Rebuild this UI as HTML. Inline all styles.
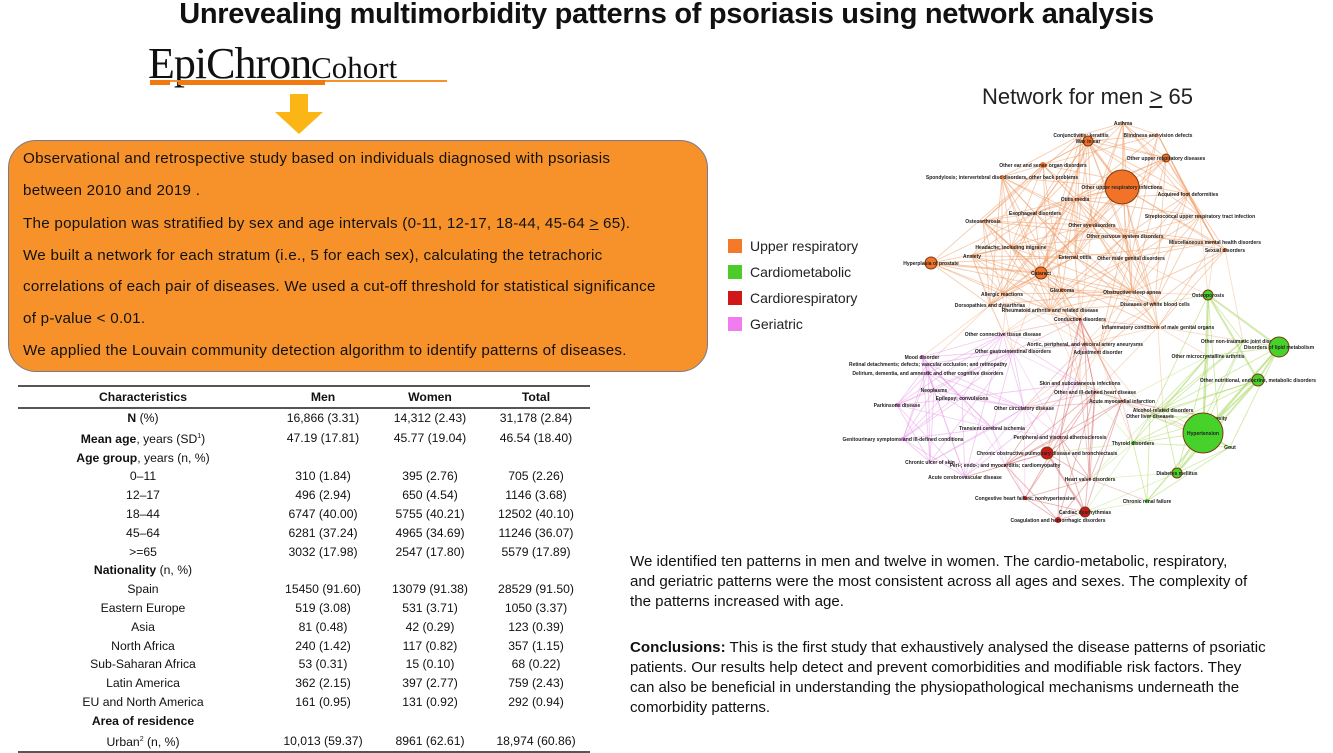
<!DOCTYPE html>
<html><head><meta charset="utf-8">
<style>
body{margin:0;width:1333px;height:748px;background:#fff;position:relative;overflow:hidden;font-family:"Liberation Sans",sans-serif;color:#111}
.abs{position:absolute}
#title{left:0;width:1333px;top:-2px;text-align:center;font-weight:bold;font-size:29px;letter-spacing:-0.3px;padding-left:0}
#box{left:8px;top:140px;width:698px;height:230px;background:#f7922a;border:1.5px solid #7a7a8a;border-radius:28px}
.bl{position:absolute;left:14px;font-size:15.2px;letter-spacing:0.25px;color:#111;white-space:nowrap}
table{position:absolute;left:18px;top:385px;width:572px;border-collapse:collapse;font-size:12.2px}
td,th{text-align:center;padding:0;height:18.8px;line-height:18.8px}
th{height:20px;border-bottom:2px solid #555}
table{border-top:2px solid #555;border-bottom:2px solid #555}
.lg{position:absolute;left:750px;font-size:14px;color:#222}
.sq{position:absolute;left:728px;width:14px;height:14px}
.tx{position:absolute;left:630px;font-size:15.1px;line-height:20px;color:#111;white-space:nowrap}
</style></head><body>
<div id="title" class="abs">Unrevealing multimorbidity patterns of psoriasis using network analysis</div>
<div class="abs" style="left:148px;top:38px;font-family:'Liberation Serif',serif;font-size:44px;color:#111;letter-spacing:-1px">EpiChron<span style="font-size:31px;letter-spacing:0">Cohort</span></div>
<div class="abs" style="left:150px;top:80px;width:297px;height:2px;background:#f7922a"></div>
<div class="abs" style="left:150px;top:80px;width:20px;height:5px;background:#f07a10"></div>
<div class="abs" style="left:178px;top:80px;width:147px;height:5px;background:#f07a10"></div>
<svg class="abs" style="left:274px;top:94px" width="50" height="42"><polygon points="16,0 34,0 34,18 49,18 25,40 1,18 16,18" fill="#fbb514"/></svg>
<div id="box" class="abs">
<div class="bl" style="top:9px">Observational and retrospective study based on individuals diagnosed with psoriasis</div>
<div class="bl" style="top:41px">between 2010 and 2019 .</div>
<div class="bl" style="top:74px">The population was stratified by sex and age intervals (0-11, 12-17, 18-44, 45-64 <u>&gt;</u> 65).</div>
<div class="bl" style="top:106px">We built a network for each stratum (i.e., 5 for each sex), calculating the tetrachoric</div>
<div class="bl" style="top:137px">correlations of each pair of diseases. We used a cut-off threshold for statistical significance</div>
<div class="bl" style="top:169px">of p-value &lt; 0.01.</div>
<div class="bl" style="top:201px">We applied the Louvain community detection algorithm to identify patterns of diseases.</div>
</div>
<table>
<tr><th style="width:250px">Characteristics</th><th style="width:110px">Men</th><th style="width:104px">Women</th><th>Total</th></tr>
<tr><td><b>N</b> (%)</td><td>16,866 (3.31)</td><td>14,312 (2.43)</td><td>31,178 (2.84)</td></tr>
<tr><td><b>Mean age</b>, years (SD<sup style="font-size:7px">1</sup>)</td><td>47.19 (17.81)</td><td>45.77 (19.04)</td><td>46.54 (18.40)</td></tr>
<tr><td><b>Age group</b>, years (n, %)</td><td></td><td></td><td></td></tr>
<tr><td>0–11</td><td>310 (1.84)</td><td>395 (2.76)</td><td>705 (2.26)</td></tr>
<tr><td>12–17</td><td>496 (2.94)</td><td>650 (4.54)</td><td>1146 (3.68)</td></tr>
<tr><td>18–44</td><td>6747 (40.00)</td><td>5755 (40.21)</td><td>12502 (40.10)</td></tr>
<tr><td>45–64</td><td>6281 (37.24)</td><td>4965 (34.69)</td><td>11246 (36.07)</td></tr>
<tr><td>&gt;=65</td><td>3032 (17.98)</td><td>2547 (17.80)</td><td>5579 (17.89)</td></tr>
<tr><td><b>Nationality</b> (n, %)</td><td></td><td></td><td></td></tr>
<tr><td>Spain</td><td>15450 (91.60)</td><td>13079 (91.38)</td><td>28529 (91.50)</td></tr>
<tr><td>Eastern Europe</td><td>519 (3.08)</td><td>531 (3.71)</td><td>1050 (3.37)</td></tr>
<tr><td>Asia</td><td>81 (0.48)</td><td>42 (0.29)</td><td>123 (0.39)</td></tr>
<tr><td>North Africa</td><td>240 (1.42)</td><td>117 (0.82)</td><td>357 (1.15)</td></tr>
<tr><td>Sub-Saharan Africa</td><td>53 (0.31)</td><td>15 (0.10)</td><td>68 (0.22)</td></tr>
<tr><td>Latin America</td><td>362 (2.15)</td><td>397 (2.77)</td><td>759 (2.43)</td></tr>
<tr><td>EU and North America</td><td>161 (0.95)</td><td>131 (0.92)</td><td>292 (0.94)</td></tr>
<tr><td><b>Area of residence</b></td><td></td><td></td><td></td></tr>
<tr><td>Urban<sup style="font-size:7px">2</sup> (n, %)</td><td>10,013 (59.37)</td><td>8961 (62.61)</td><td>18,974 (60.86)</td></tr>
</table>
<div class="abs" style="left:982px;top:84px;font-size:22px;color:#222">Network for men <u>&gt;</u> 65</div>
<div class="sq" style="top:239px;background:#f47a2a"></div>
<div class="lg" style="top:238px">Upper respiratory</div>
<div class="sq" style="top:265px;background:#4ccc2a"></div>
<div class="lg" style="top:264px">Cardiometabolic</div>
<div class="sq" style="top:291px;background:#d01818"></div>
<div class="lg" style="top:290px">Cardiorespiratory</div>
<div class="sq" style="top:317px;background:#f07cf0"></div>
<div class="lg" style="top:316px">Geriatric</div>
<svg id="net" class="abs" style="left:0;top:0" width="1333" height="748"></svg>
<div class="tx" style="top:552px">We identified ten patterns in men and twelve in women. The cardio-metabolic, respiratory,<br>and geriatric patterns were the most consistent across all ages and sexes. The complexity of<br>the patterns increased with age.</div>
<div class="tx" style="top:638px"><b>Conclusions:</b> This is the first study that exhaustively analysed the disease patterns of psoriatic<br>patients. Our results help detect and prevent comorbidities and modifiable risk factors. They<br>can also be beneficial in understanding the physiopathological mechanisms underneath the<br>comorbidity patterns.</div>
<script>
const nodeNames=["Asthma","Conjunctivitis; keratitis","Blindness and vision defects","Wax in ear","Other upper respiratory diseases","Other ear and sense organ disorders","Spondylosis; intervertebral disc disorders, other back problems","Other upper respiratory infections","Acquired foot deformities","Otitis media","Esophageal disorders","Streptococcal upper respiratory tract infection","Osteoarthrosis","Other eye disorders","Other nervous system disorders","Miscellaneous mental health disorders","Sexual disorders","Headache; including migraine","Anxiety","External otitis","Other male genital disorders","Hyperplasia of prostate","Cataract","Glaucoma","Obstructive sleep apnea","Allergic reactions","Osteoporosis","Diseases of white blood cells","Dorsopathies and dysarthrias","Rheumatoid arthritis and related disease","Conduction disorders","Inflammatory conditions of male genital organs","Other connective tissue disease","Other non-traumatic joint disorders","Aortic, peripheral, and visceral artery aneurysms","Disorders of lipid metabolism","Mood disorder","Other gastrointestinal disorders","Adjustment disorder","Other microcrystalline arthritis","Retinal detachments; defects; vascular occlusion; and retinopathy","Delirium, dementia, and amnestic and other cognitive disorders","Other nutritional, endocrine, metabolic disorders","Neoplasms","Epilepsy; convulsions","Parkinsons disease","Other and ill-defined heart disease","Acute myocardial infarction","Other circulatory disease","Alcohol-related disorders","Other liver diseases","Obesity","Transient cerebral ischemia","Hypertension","Genitourinary symptoms and ill-defined conditions","Peripheral and visceral atherosclerosis","Thyroid disorders","Gout","Chronic ulcer of skin","Chronic obstructive pulmonary disease and bronchiectasis","Peri-; endo-; and myocarditis; cardiomyopathy","Diabetes mellitus","Acute cerebrovascular disease","Heart valve disorders","Congestive heart failure; nonhypertensive","Chronic renal failure","Cardiac dysrhythmias","Coagulation and hemorrhagic disorders","Skin and subcutaneous infections"];
const nodeX=[1123,1081,1158,1088,1166,1043,1002,1122,1188,1075,1035,1200,983,1092,1125,1215,1225,1011,972,1075,1131,931,1041,1062,1132,1002,1208,1155,990,1050,1080,1158,1003,1243,1085,1279,922,1013,1098,1208,928,928,1258,934,962,897,1095,1122,1024,1163,1150,1218,992,1203,903,1060,1133,1230,930,1047,1005,1177,965,1090,1025,1147,1085,1058,1080];
const nodeY=[123,135,135,141,158,165,177,187,194,199,213,216,221,225,236,242,250,247,256,257,258,263,273,290,292,294,295,304,305,310,319,327,334,341,344,347,357,351,352,356,364,373,380,390,398,405,392,401,408,410,416,418,428,433,439,437,443,447,462,453,465,473,477,479,498,501,512,520,383];
const nodeGroup=[0,0,0,0,0,0,0,0,0,0,0,0,0,0,0,0,0,0,0,0,0,0,0,0,0,0,1,0,0,0,2,0,3,1,2,1,3,3,0,1,3,3,1,3,3,3,2,2,3,1,1,1,3,1,3,2,1,1,3,2,2,1,3,2,2,1,2,2,3];
const nodeSize=[1,1,1,5,4,3,2,17,1,1,1,1,1,1,1,1,2,1,1,1,1,6,6,2,1,1,5,1,1,1,1,1,1,1,1,10,2,1,1,1,1,2,6,1,1,2,1,1,1,1,1,1,1,20,2,1,2,1,1,6,1,5,1,1,2,2,5,3,1];
const groupColors=["#f27328","#46d22a","#cc1a1a","#e46fe0"];
const edgeColors=["#ee9a62","#a6d65a","#d86a6a","#e89ae8"];
const NS='http://www.w3.org/2000/svg';
const svg=document.getElementById('net');
const eg=document.createElementNS(NS,'g');
svg.appendChild(eg);
for(let i=0;i<nodeNames.length;i++){for(let j=i+1;j<nodeNames.length;j++){
 const dx=nodeX[i]-nodeX[j],dy=nodeY[i]-nodeY[j],d=Math.sqrt(dx*dx+dy*dy);
 const same=nodeGroup[i]===nodeGroup[j];
 if(d<(same?150:100)&&((i*7+j*13)%3!==0)){
  const l=document.createElementNS(NS,'line');
  
  
  l.setAttribute('x1',nodeX[i]);l.setAttribute('y1',nodeY[i]);l.setAttribute('x2',nodeX[j]);l.setAttribute('y2',nodeY[j]);
  l.setAttribute('stroke',edgeColors[nodeGroup[i]]);
  l.setAttribute('stroke-opacity',same?0.5:0.35);
  l.setAttribute('stroke-width',(nodeSize[i]>4&&nodeSize[j]>4&&same)?2:0.9);
  eg.appendChild(l);
 }}}
const ng=document.createElementNS(NS,'g');
svg.appendChild(ng);
for(let i=0;i<nodeNames.length;i++){
 const c=document.createElementNS(NS,'circle');
 
 
 c.setAttribute('cx',nodeX[i]);c.setAttribute('cy',nodeY[i]);c.setAttribute('r',nodeSize[i]);
 c.setAttribute('fill',groupColors[nodeGroup[i]]);
 if(nodeSize[i]>3){c.setAttribute('stroke','#7a3a10');c.setAttribute('stroke-width',1);}
 ng.appendChild(c);
 const t=document.createElementNS(NS,'text');
 
 
 t.setAttribute('x',nodeX[i]);t.setAttribute('y',nodeY[i]+2);
 t.setAttribute('text-anchor','middle');
 t.setAttribute('font-size','5');t.setAttribute('font-weight','bold');
 t.setAttribute('font-family','Liberation Sans, sans-serif');t.setAttribute('fill','#222');
 t.textContent=nodeNames[i];
 ng.appendChild(t);
}
</script>
</body></html>
